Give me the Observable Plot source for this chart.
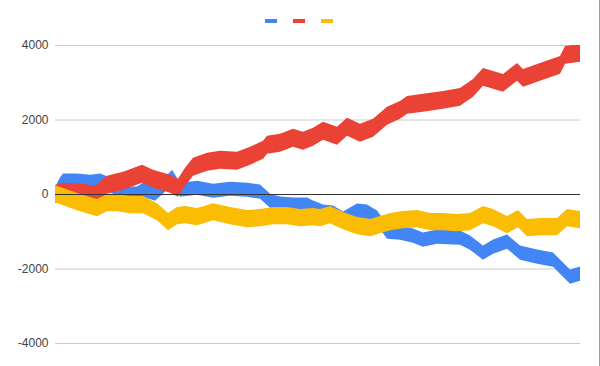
<!DOCTYPE html>
<html>
<head>
<meta charset="utf-8">
<script src="https://cdn.jsdelivr.net/npm/d3@7"></script>
<script src="https://cdn.jsdelivr.net/npm/@observablehq/plot@0.6"></script>
<style>
  html, body { margin: 0; padding: 0; background: #fff; }
  #wrap { position: relative; width: 600px; height: 366px; overflow: hidden; }
  #legend { position: absolute; left: 0; top: 0; width: 600px; height: 0; }
  #legend span { position: absolute; top: 19px; width: 12px; height: 4px; }
  #border { position: absolute; right: 0; top: 0; width: 1px; height: 366px; background: #a0a0a0; }
  svg { font-family: "Liberation Sans", Arial, sans-serif; }
</style>
</head>
<body>
<div id="wrap">
  <div id="legend"></div>
  <div id="chart"></div>
  <div id="border"></div>
</div>
<script>
// Series names and colours (legend has no visible labels)
const seriesNames = ["Series 1", "Series 2", "Series 3"];
const seriesColors = ["#4285F4", "#EA4335", "#FBBC04"];

// Y-axis tick labels
const yTicks = [-4000, -2000, 0, 2000, 4000];

// Band half-width of each noisy series (value units)
const bandHalfWidth = [190, 240, 230];

// Blue series: step positions and values
const blueX = [0, 5, 8, 22, 35, 45, 55, 68, 82, 88, 100, 110, 117, 125, 142, 158, 175, 192, 205, 215, 225, 238, 252, 258, 268, 278, 288, 302, 312, 322, 332, 345, 358, 368, 382, 405, 415, 428, 438, 452, 465, 482, 498, 508, 515, 525];
const blueY = [0, 250, 357, 357, 330, 357, 250, 8, 8, 115, 8, 250, 464, 115, 169, 88, 142, 115, 62, -180, -260, -287, -287, -367, -475, -501, -662, -448, -475, -635, -1011, -1038, -1118, -1225, -1145, -1172, -1306, -1574, -1413, -1279, -1574, -1681, -1761, -2029, -2217, -2136];

// Red series
const redX = [0, 8, 28, 40, 52, 68, 87, 98, 115, 123, 130, 138, 152, 165, 182, 195, 208, 212, 225, 238, 248, 258, 268, 282, 292, 305, 318, 332, 345, 352, 368, 388, 405, 418, 428, 448, 462, 468, 485, 505, 510, 525];
const redY = [0, 62, 35, -19, 249, 357, 544, 410, 276, 169, 464, 732, 866, 920, 893, 1027, 1188, 1322, 1375, 1509, 1429, 1536, 1697, 1563, 1804, 1643, 1777, 2099, 2260, 2394, 2448, 2528, 2609, 2850, 3145, 2984, 3279, 3118, 3279, 3467, 3735, 3788];

// Yellow series
const yellowX = [0, 8, 22, 35, 42, 52, 62, 75, 88, 102, 113, 122, 130, 142, 158, 175, 192, 205, 218, 232, 245, 258, 265, 275, 288, 302, 315, 325, 335, 348, 362, 375, 388, 402, 415, 428, 438, 452, 463, 472, 485, 502, 512, 525];
const yellowY = [8, -72, -206, -313, -367, -233, -233, -287, -287, -475, -743, -582, -555, -609, -475, -582, -662, -635, -582, -582, -635, -609, -635, -555, -716, -850, -903, -823, -743, -689, -662, -743, -743, -769, -743, -555, -635, -823, -662, -903, -877, -877, -635, -689];

const seriesX = [blueX, redX, yellowX];
const seriesY = [blueY, redY, yellowY];

// Legend
const legend = document.getElementById("legend");
const legendLeft = [265, 293, 321];
seriesColors.forEach((c, i) => {
  const s = document.createElement("span");
  s.style.left = legendLeft[i] + "px";
  s.style.background = c;
  s.title = seriesNames[i];
  legend.appendChild(s);
});

const bands = seriesX.map((xs, i) => xs.map((x, j) => ({
  t: x,
  lo: seriesY[i][j] - bandHalfWidth[i],
  hi: seriesY[i][j] + bandHalfWidth[i]
})));

const chart = Plot.plot({
  width: 600,
  height: 366,
  marginTop: 45,
  marginBottom: 23,
  marginLeft: 55,
  marginRight: 20,
  style: { fontFamily: "'Liberation Sans', Arial, sans-serif", fontSize: "12px", background: "transparent" },
  x: { domain: [0, 525], axis: null },
  y: { domain: [-4000, 4000], axis: null },
  marks: [
    Plot.gridY(yTicks, { stroke: "#cccccc", strokeOpacity: 1 }),
    Plot.axisY(yTicks, {
      tickSize: 0,
      tickPadding: 7,
      tickFormat: d => String(d),
      fill: "#444",
      fontSize: 12
    }),
    ...bands.map((b, i) => Plot.areaY(b, {
      x: "t", y1: "lo", y2: "hi",
      fill: seriesColors[i], fillOpacity: 1,
      curve: "linear", clip: true
    })),
    Plot.ruleY([0], { stroke: "#333", strokeWidth: 1 })
  ]
});
document.getElementById("chart").appendChild(chart);
</script>
</body>
</html>
